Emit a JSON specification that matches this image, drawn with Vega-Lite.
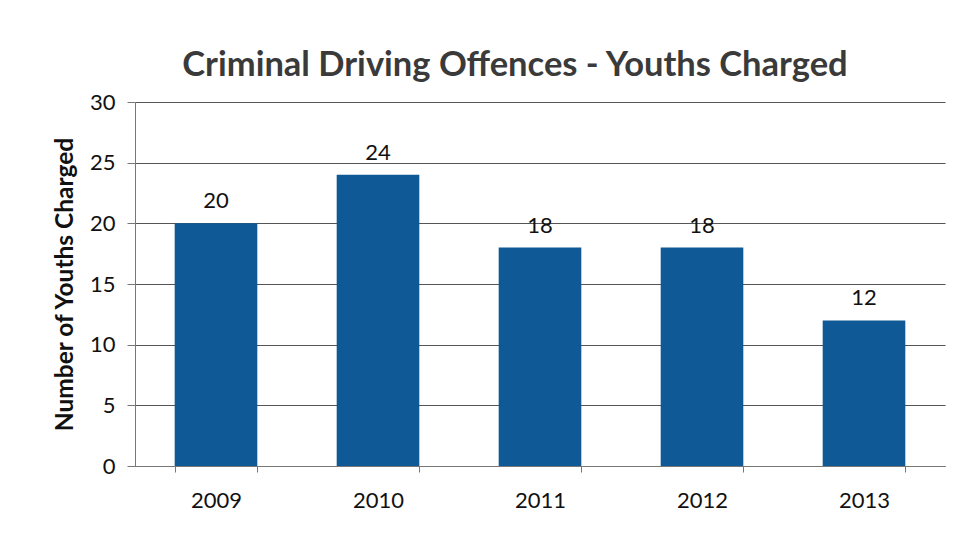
{
  "$schema": "https://vega.github.io/schema/vega-lite/v6.json",
  "autosize": "none",
  "width": 810,
  "height": 364,
  "padding": {"left": 135, "top": 102, "right": 21, "bottom": 69},
  "background": "white",
  "title": {
    "text": "Criminal Driving Offences - Youths Charged",
    "font": "Lato",
    "fontSize": 34.5,
    "fontWeight": "bold",
    "color": "#3a3a3a",
    "dx": -25,
    "offset": 8
  },
  "data": {
    "values": [
      {"year": "2009", "count": 20},
      {"year": "2010", "count": 24},
      {"year": "2011", "count": 18},
      {"year": "2012", "count": 18},
      {"year": "2013", "count": 12}
    ]
  },
  "encoding": {
    "x": {
      "field": "year",
      "type": "ordinal",
      "scale": {"paddingInner": 0.49, "paddingOuter": 0.245},
      "axis": {
        "title": null,
        "labelAngle": 0,
        "labelFont": "Lato",
        "labelFontSize": 22,
        "labelColor": "#111",
        "labelPadding": 18,
        "tickBand": "extent",
        "tickSize": 6,
        "tickColor": "#777",
        "domainColor": "#777",
        "grid": false
      }
    },
    "y": {
      "field": "count",
      "type": "quantitative",
      "scale": {"domain": [0, 30]},
      "axis": {
        "title": "Number of Youths Charged",
        "titleFont": "Lato",
        "titleFontSize": 24.5,
        "titleFontWeight": "bold",
        "titleColor": "#111",
        "titlePadding": 12,
        "values": [0, 5, 10, 15, 20, 25, 30],
        "labelFont": "Lato",
        "labelFontSize": 22,
        "labelColor": "#111",
        "labelPadding": 12,
        "tickSize": 8,
        "tickColor": "#777",
        "domainColor": "#777",
        "gridColor": "#555",
        "gridWidth": 1.2
      }
    }
  },
  "layer": [
    {"mark": {"type": "bar", "color": "#0f5a96"}},
    {
      "mark": {"type": "text", "dy": -22, "font": "Lato", "fontSize": 22, "color": "#111"},
      "encoding": {"text": {"field": "count", "type": "quantitative"}}
    }
  ],
  "config": {"view": {"stroke": null}}
}
